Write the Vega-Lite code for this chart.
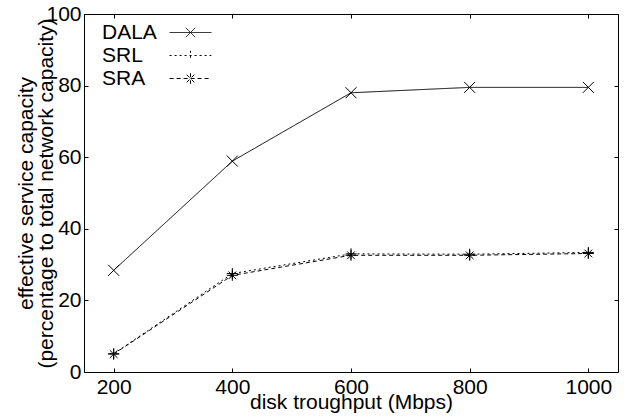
{
  "$schema": "https://vega.github.io/schema/vega-lite/v6.json",
  "width": 534,
  "height": 358,
  "autosize": {"type": "none"},
  "padding": {"left": 84, "top": 14, "right": 15, "bottom": 45},
  "background": "white",
  "config": {
    "font": "Liberation Sans",
    "view": {"stroke": "black", "strokeWidth": 1},
    "axis": {
      "domain": false,
      "grid": false,
      "tickColor": "black",
      "tickSize": -4,
      "tickWidth": 1,
      "labelFont": "Liberation Sans",
      "labelFontSize": 21,
      "labelColor": "black",
      "titleFont": "Liberation Sans",
      "titleFontSize": 21,
      "titleFontWeight": "normal",
      "titleColor": "black"
    }
  },
  "data": {
    "values": [
      {"throughput": 200, "capacity": 28.4, "series": "DALA", "marker": "x"},
      {"throughput": 400, "capacity": 58.9, "series": "DALA", "marker": "x"},
      {"throughput": 600, "capacity": 78.0, "series": "DALA", "marker": "x"},
      {"throughput": 800, "capacity": 79.5, "series": "DALA", "marker": "x"},
      {"throughput": 1000, "capacity": 79.5, "series": "DALA", "marker": "x"},
      {"throughput": 200, "capacity": 5.1, "series": "SRL", "marker": "plus"},
      {"throughput": 400, "capacity": 27.5, "series": "SRL", "marker": "plus"},
      {"throughput": 600, "capacity": 33.0, "series": "SRL", "marker": "plus"},
      {"throughput": 800, "capacity": 32.9, "series": "SRL", "marker": "plus"},
      {"throughput": 1000, "capacity": 33.4, "series": "SRL", "marker": "plus"},
      {"throughput": 200, "capacity": 5.0, "series": "SRA", "marker": "star"},
      {"throughput": 400, "capacity": 27.0, "series": "SRA", "marker": "star"},
      {"throughput": 600, "capacity": 32.6, "series": "SRA", "marker": "star"},
      {"throughput": 800, "capacity": 32.6, "series": "SRA", "marker": "star"},
      {"throughput": 1000, "capacity": 33.1, "series": "SRA", "marker": "star"}
    ]
  },
  "layer": [
    {
      "mark": {"type": "line", "color": "black", "strokeWidth": 1},
      "encoding": {
        "x": {
          "field": "throughput", "type": "quantitative",
          "scale": {"domain": [150, 1050], "nice": false, "zero": false},
          "axis": {"orient": "bottom", "values": [200, 400, 600, 800, 1000], "format": "d", "title": "disk troughput (Mbps)", "labelPadding": 8, "titlePadding": -6}
        },
        "y": {
          "field": "capacity", "type": "quantitative",
          "scale": {"domain": [0, 100], "nice": false},
          "axis": {"orient": "left", "values": [0, 20, 40, 60, 80, 100], "title": ["effective service capacity", "(percentage to total network capacity)"], "titleLineHeight": 20, "labelPadding": 7, "titlePadding": -11}
        },
        "strokeDash": {
          "field": "series", "type": "nominal",
          "scale": {"domain": ["DALA", "SRL", "SRA"], "range": [[1, 0], [2, 3], [4, 3]]},
          "legend": {
            "title": null,
            "orient": "none",
            "legendX": 96,
            "legendY": 8,
            "symbolSize": 121,
            "symbolStrokeColor": "black",
            "symbolFillColor": "transparent",
            "symbolStrokeWidth": 1,
            "labelFont": "Liberation Sans",
            "labelFontSize": 21,
            "labelColor": "black",
            "labelOffset": -99,
            "rowPadding": 1,
            "encode": {
              "symbols": {
                "update": {
                  "shape": {"signal": "datum.value === 'DALA' ? 'M-3.8,0L3.8,0M-0.85,-0.85L0.85,0.85M-0.85,0.85L0.85,-0.85' : datum.value === 'SRL' ? 'M-3.8,0L3.8,0M0,-0.85L0,0.85' : 'M-3.8,0L3.8,0M0,-0.95L0,0.95M-0.7,-0.7L0.7,0.7M-0.7,0.7L0.7,-0.7'"}
                }
              }
            }
          }
        }
      }
    },
    {
      "mark": {"type": "point", "filled": false, "color": "black", "strokeWidth": 1, "size": 121, "opacity": 1},
      "encoding": {
        "x": {
          "field": "throughput", "type": "quantitative",
          "axis": {"orient": "top", "values": [200, 400, 600, 800, 1000], "labels": false, "title": null}
        },
        "y": {
          "field": "capacity", "type": "quantitative",
          "axis": {"orient": "right", "values": [0, 20, 40, 60, 80, 100], "labels": false, "title": null}
        },
        "shape": {
          "field": "marker", "type": "nominal",
          "scale": {"domain": ["x", "plus", "star"], "range": ["M-1,-1L1,1M-1,1L1,-1", "M-1,0L1,0M0,-1L0,1", "M-1,0L1,0M0,-1L0,1M-0.7,-0.7L0.7,0.7M-0.7,0.7L0.7,-0.7"]},
          "legend": null
        }
      }
    }
  ],
  "resolve": {"axis": {"x": "independent", "y": "independent"}}
}
